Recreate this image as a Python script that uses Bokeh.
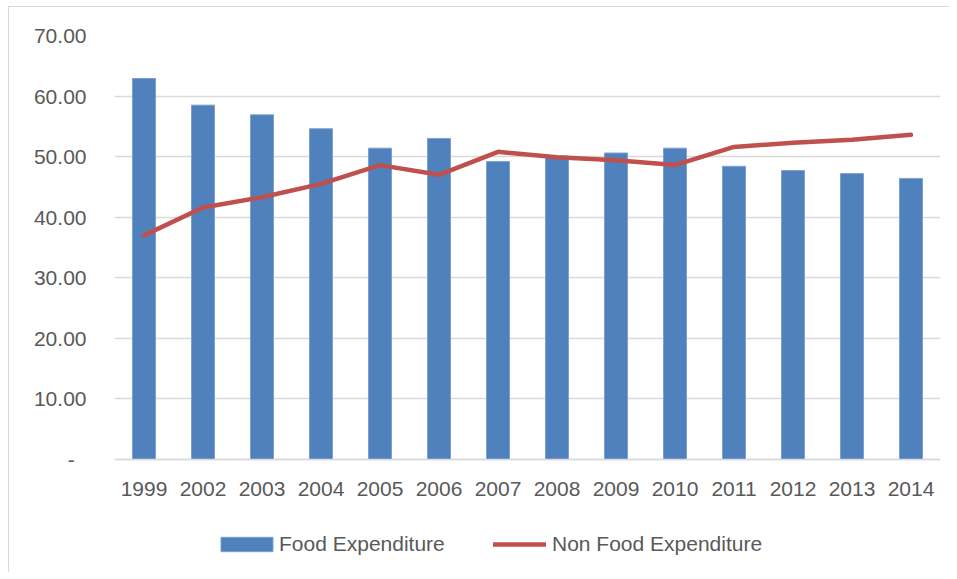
from bokeh.plotting import figure
from bokeh.models import FactorRange, FixedTicker, NumeralTickFormatter, Legend, LegendItem, ColumnDataSource
from bokeh.embed import file_html
from bokeh.resources import INLINE

years = ["1999", "2002", "2003", "2004", "2005", "2006", "2007",
         "2008", "2009", "2010", "2011", "2012", "2013", "2014"]
food = [62.9, 58.5, 56.9, 54.6, 51.4, 53.0, 49.2, 50.1, 50.6, 51.4, 48.4, 47.7, 47.2, 46.4]
non_food = [37.0, 41.6, 43.3, 45.5, 48.6, 47.0, 50.8, 49.9, 49.4, 48.6, 51.6, 52.3, 52.8, 53.6]
y_ticks = [0, 10, 20, 30, 40, 50, 60, 70]

FONT = "Liberation Sans"
GRID = "#d9d9d9"
TXT = "#595959"

src = ColumnDataSource(dict(years=years, food=food, non_food=non_food))

p = figure(width=941, height=566, x_range=FactorRange(*years, range_padding=0),
           y_range=(-18.33, 70), output_backend="svg", toolbar_location=None,
           min_border_left=105, min_border_right=10, min_border_top=28, min_border_bottom=3)
p.styles = {"border-left": "1px solid #d9d9d9", "border-top": "1px solid #d9d9d9",
            "margin-left": "8px", "margin-top": "6px"}
p.outline_line_color = None

bars = p.vbar(x="years", top="food", width=0.39, source=src,
              fill_color="#4f81bd", line_color="#7f9fd0", line_width=1)
line = p.line(x="years", y="non_food", source=src, line_color="#c0504d",
              line_width=4.5, line_cap="round", line_join="round")

p.xgrid.grid_line_color = None
p.ygrid.grid_line_color = GRID
p.ygrid.grid_line_width = 1.5
p.yaxis.ticker = FixedTicker(ticks=y_ticks)
p.yaxis.formatter = NumeralTickFormatter(format="0.00")
p.yaxis.major_label_overrides = {0: "-\u00a0\u00a0"}
p.yaxis.axis_line_color = None
p.yaxis.major_tick_line_color = None
p.yaxis.minor_tick_line_color = None
p.yaxis.major_tick_out = 0
p.yaxis.minor_tick_out = 0
p.yaxis.major_label_standoff = 28

p.xaxis.fixed_location = 0
p.xaxis.axis_line_color = GRID
p.xaxis.axis_line_width = 1.5
p.xaxis.major_tick_line_color = None
p.xaxis.major_tick_out = 0
p.xaxis.major_label_standoff = 23

for ax in (p.xaxis, p.yaxis):
    ax.major_label_text_font = FONT
    ax.major_label_text_font_size = "21px"
    ax.major_label_text_color = TXT

common = dict(orientation="horizontal", padding=0, margin=0,
              border_line_color=None, background_fill_alpha=0,
              label_text_font=FONT, label_text_font_size="21px", label_text_color=TXT)
leg1 = Legend(items=[LegendItem(label="Food Expenditure", renderers=[bars])],
              location=(100, 14), glyph_width=65, glyph_height=18, label_standoff=0, **common)
leg2 = Legend(items=[LegendItem(label="Non Food Expenditure", renderers=[line])],
              location=(379, 14), glyph_width=53, glyph_height=18, label_standoff=6, **common)
p.add_layout(leg1, "center")
p.add_layout(leg2, "center")

open("out.html", "w").write(file_html(p, INLINE))
